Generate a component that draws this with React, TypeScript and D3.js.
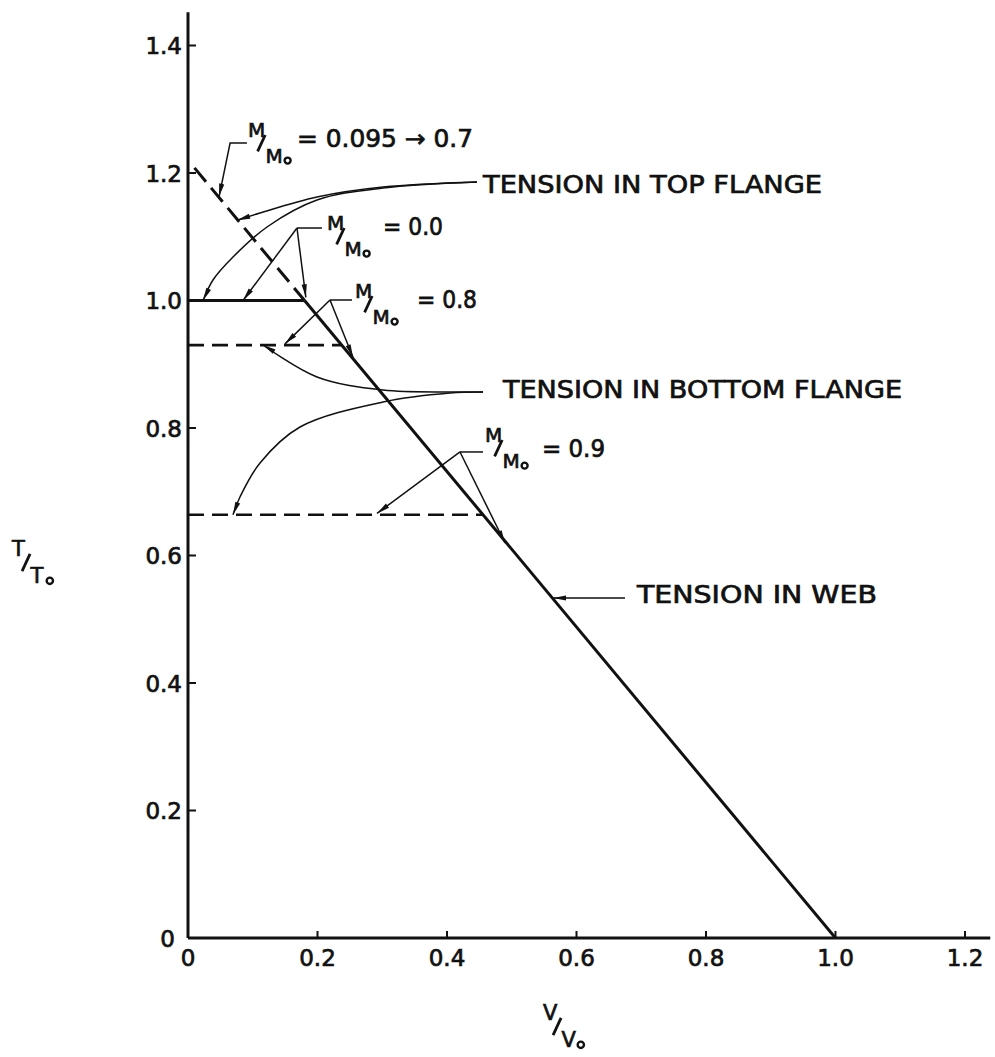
import * as d3 from "d3";

const X_TICKS = [0, 0.2, 0.4, 0.6, 0.8, 1.0, 1.2];
const X_LABELS = ["0", "0.2", "0.4", "0.6", "0.8", "1.0", "1.2"];
const Y_TICKS = [0, 0.2, 0.4, 0.6, 0.8, 1.0, 1.2, 1.4];
const Y_LABELS = ["0", "0.2", "0.4", "0.6", "0.8", "1.0", "1.2", "1.4"];

// tension in web (solid) and its dashed extension up to the T axis
const WEB_V = [0.18, 1.0];
const WEB_T = [1.0, 0.0];
const WEB_EXT_V = [0.01, 0.18];
const WEB_EXT_T = [1.208, 1.0];

// flange plateaus: M/Mo = 0.0 (solid), 0.8 and 0.9 (dashed)
const FLANGE_00_V = [0, 0.18];
const FLANGE_00_T = [1.0, 1.0];
const FLANGE_08_V = [0, 0.238];
const FLANGE_08_T = [0.93, 0.93];
const FLANGE_09_V = [0, 0.456];
const FLANGE_09_T = [0.664, 0.664];

// callouts, in V/Vo , T/To units
const LEAD_095 = [[0.091, 1.247], [0.065, 1.247], [0.048, 1.163]];
const TOP_CURVE_1 = [[0.4463, 1.1859], [0.3012, 1.178], [0.1992, 1.1624], [0.1112, 1.1373], [0.076, 1.126]];
const TOP_CURVE_2 = [[0.4463, 1.1859], [0.3012, 1.1765], [0.1992, 1.1576], [0.122, 1.1153], [0.0695, 1.0682], [0.0386, 1.0322], [0.0232, 1.0]];
const BOT_CURVE_1 = [[0.4556, 0.8565], [0.4046, 0.8565], [0.3012, 0.8596], [0.1992, 0.88], [0.1158, 0.9302]];
const BOT_CURVE_2 = [[0.4556, 0.8565], [0.4046, 0.8549], [0.3012, 0.8408], [0.173, 0.8016], [0.1112, 0.7451], [0.0803, 0.6918], [0.0695, 0.664]];
const WEB_LEAD = [[0.6749, 0.5333], [0.5637, 0.5333]];

const CALLOUTS = [
  { frac: [0.0927, 1.2565], value: "= 0.095 → 0.7", valueAt: [0.1683, 1.2408], valueLen: 176, bar: null, tips: [] },
  { frac: [0.2147, 1.1106], value: "= 0.0", valueAt: [0.3012, 1.1027], valueLen: 60, bar: [[0.207, 1.1137], [0.1683, 1.1137]], tips: [[0.085, 1.0], [0.182, 1.005]] },
  { frac: [0.2579, 1.0039], value: "= 0.8", valueAt: [0.3537, 0.9882], valueLen: 60, bar: [[0.2533, 1.0008], [0.2193, 1.0008]], tips: [[0.1498, 0.932], [0.2548, 0.911]] },
  { frac: [0.4587, 0.778], value: "= 0.9", valueAt: [0.5467, 0.7545], valueLen: 63, bar: [[0.4556, 0.7624], [0.4201, 0.7624]], tips: [[0.2919, 0.666], [0.4896, 0.6196]] },
];

const LABELS = [
  { text: "TENSION IN TOP FLANGE", at: [0.4556, 1.1686], len: 339 },
  { text: "TENSION IN BOTTOM FLANGE", at: [0.4865, 0.8471], len: 399 },
  { text: "TENSION IN WEB", at: [0.6934, 0.5255], len: 240 },
];

const FONT = "'DejaVu Sans', sans-serif";
const INK = "#111";
// hand lettering is heavier than the regular face
const HEAVY = { stroke: INK, strokeWidth: 0.7, paintOrder: "stroke" } as const;

const x = d3.scaleLinear().domain([0, 1.2]).range([188, 965]);
const y = d3.scaleLinear().domain([0, 1.4]).range([938, 45.5]);

function pts(vs: number[], ts: number[]): [number, number][] {
  return vs.map((v, i) => [x(v), y(ts[i])]);
}
const toPx = (p: number[]): [number, number] => [x(p[0]), y(p[1])];

const straight = d3.line();
const smooth = d3.line().curve(d3.curveCatmullRom.alpha(0.5));

function Arrow({ tip, from }: { tip: [number, number]; from: [number, number] }) {
  const dx = tip[0] - from[0];
  const dy = tip[1] - from[1];
  const d = Math.hypot(dx, dy) || 1;
  const ux = dx / d, uy = dy / d;
  const L = 13, W = 2.6;
  const bx = tip[0] - ux * L, by = tip[1] - uy * L;
  const p = [
    [tip[0], tip[1]],
    [bx - uy * W, by + ux * W],
    [bx + uy * W, by - ux * W],
  ];
  return <polygon points={p.map((q) => q.join(",")).join(" ")} fill={INK} />;
}

function Frac({ px, py, a, b, size }: { px: number; py: number; a: string; b: string; size: number }) {
  const bw = b === "M" ? 0.86 : 0.68;
  return (
    <g fontFamily={FONT} fill={INK} {...HEAVY}>
      <text x={px} y={py} fontSize={size}>{a}</text>
      <line x1={px + size * 0.86} y1={py - size * 0.1} x2={px + size * 0.48} y2={py + size * 0.72} stroke={INK} strokeWidth={2.8} />
      <text x={px + size * 0.88} y={py + size * 1.28} fontSize={size}>{b}</text>
      <circle cx={px + size * (0.92 + bw) + size * 0.2} cy={py + size * 1.18} r={size * 0.15} fill="none" stroke={INK} strokeWidth={2.4} />
    </g>
  );
}

export default function App() {
  const W = 995;
  const H = 1057;
  const leadStroke = 1.5;

  return (
    <svg width={W} height={H} style={{ position: "absolute", left: 0, top: 0, background: "#fff" }}>
      <rect width={W} height={H} fill="#fff" />

      {/* axes */}
      <line x1={x(0)} x2={x(0)} y1={y(0)} y2={y(1.452)} stroke={INK} strokeWidth={3} />
      <line x1={x(0)} x2={x(1.239)} y1={y(0)} y2={y(0)} stroke={INK} strokeWidth={3} />
      {Y_TICKS.map((t, i) => (
        <g key={"y" + i}>
          {t > 0 && <line x1={x(0)} x2={x(0) + 8} y1={y(t)} y2={y(t)} stroke={INK} strokeWidth={2} />}
          <text
            x={t === 0 ? x(0) - 13 : x(0) - 6}
            y={t === 0 ? y(t) + 9 : y(t) + 8.5}
            textAnchor="end"
            fontFamily={FONT}
            fontSize={23}
            fill={INK}
            {...HEAVY}
          >
            {Y_LABELS[i]}
          </text>
        </g>
      ))}
      {X_TICKS.map((t, i) => (
        <g key={"x" + i}>
          {t > 0 && <line x1={x(t)} x2={x(t)} y1={y(0)} y2={y(0) - 7} stroke={INK} strokeWidth={2} />}
          <text x={x(t)} y={y(0) + 28} textAnchor="middle" fontFamily={FONT} fontSize={23} fill={INK} {...HEAVY}>
            {X_LABELS[i]}
          </text>
        </g>
      ))}

      {/* axis titles */}
      <Frac px={543} py={1020} a="V" b="V" size={21} />
      <Frac px={12} py={556} a="T" b="T" size={21} />

      {/* curves */}
      <path d={straight(pts(WEB_EXT_V, WEB_EXT_T)) ?? ""} fill="none" stroke={INK} strokeWidth={3} strokeDasharray="18 8" />
      <path d={straight(pts(WEB_V, WEB_T)) ?? ""} fill="none" stroke={INK} strokeWidth={3} />
      <path d={straight(pts(FLANGE_00_V, FLANGE_00_T)) ?? ""} fill="none" stroke={INK} strokeWidth={3} />
      <path d={straight(pts(FLANGE_08_V, FLANGE_08_T)) ?? ""} fill="none" stroke={INK} strokeWidth={2.6} strokeDasharray="16 8" />
      <path d={straight(pts(FLANGE_09_V, FLANGE_09_T)) ?? ""} fill="none" stroke={INK} strokeWidth={2.6} strokeDasharray="16 8" />

      {/* leader for M/Mo = 0.095 -> 0.7 */}
      <path d={straight(LEAD_095.map(toPx)) ?? ""} fill="none" stroke={INK} strokeWidth={leadStroke} />
      <Arrow tip={toPx(LEAD_095[2])} from={toPx(LEAD_095[1])} />

      {/* flange curves */}
      {[TOP_CURVE_1, TOP_CURVE_2, BOT_CURVE_1, BOT_CURVE_2].map((c, i) => {
        const p = c.map(toPx);
        return (
          <g key={"c" + i}>
            <path d={smooth(p) ?? ""} fill="none" stroke={INK} strokeWidth={leadStroke} />
            <Arrow tip={p[p.length - 1]} from={p[p.length - 2]} />
          </g>
        );
      })}
      <path d={straight(WEB_LEAD.map(toPx)) ?? ""} fill="none" stroke={INK} strokeWidth={leadStroke} />
      <Arrow tip={toPx(WEB_LEAD[1])} from={toPx(WEB_LEAD[0])} />

      {/* M/Mo callouts */}
      {CALLOUTS.map((c, i) => {
        const [fx, fy] = toPx(c.frac);
        const [vx, vy] = toPx(c.valueAt);
        return (
          <g key={"m" + i}>
            <Frac px={fx} py={fy} a="M" b="M" size={20} />
            <text x={vx} y={vy} fontFamily={FONT} fontSize={24} fill={INK} textLength={c.valueLen} lengthAdjust="spacingAndGlyphs" {...HEAVY}>
              {c.value}
            </text>
            {c.bar && (
              <>
                <path d={straight(c.bar.map(toPx)) ?? ""} fill="none" stroke={INK} strokeWidth={leadStroke} />
                {c.tips.map((t, j) => {
                  const from = toPx(c.bar![1]);
                  const tip = toPx(t);
                  return (
                    <g key={j}>
                      <line x1={from[0]} y1={from[1]} x2={tip[0]} y2={tip[1]} stroke={INK} strokeWidth={leadStroke} />
                      <Arrow tip={tip} from={from} />
                    </g>
                  );
                })}
              </>
            )}
          </g>
        );
      })}

      {/* text labels */}
      {LABELS.map((l, i) => {
        const [lx, ly] = toPx(l.at);
        return (
          <text key={"l" + i} x={lx} y={ly} fontFamily={FONT} fontSize={24} fill={INK} textLength={l.len} lengthAdjust="spacingAndGlyphs" {...HEAVY}>
            {l.text}
          </text>
        );
      })}
    </svg>
  );
}
